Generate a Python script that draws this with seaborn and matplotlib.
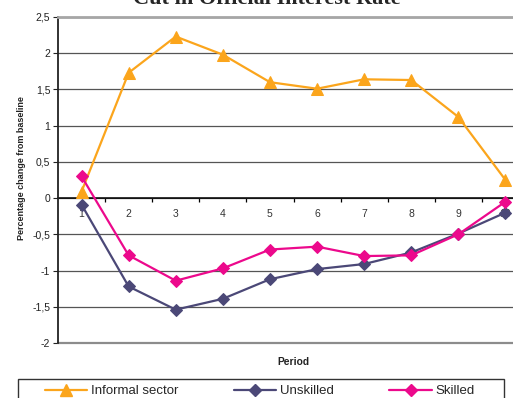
import matplotlib
matplotlib.use("Agg")
import matplotlib.pyplot as plt
from matplotlib.patches import Rectangle
from matplotlib.lines import Line2D
import seaborn as sns
import pandas as pd

# Data: percentage change from baseline per period
periods = [1, 2, 3, 4, 5, 6, 7, 8, 9, 10]
informal_sector = [0.09, 1.73, 2.23, 1.98, 1.60, 1.51, 1.64, 1.63, 1.12, 0.25]
unskilled = [-0.09, -1.22, -1.54, -1.39, -1.12, -0.98, -0.91, -0.75, -0.49, -0.20]
skilled = [0.30, -0.79, -1.14, -0.97, -0.71, -0.67, -0.80, -0.79, -0.50, -0.05]

series_names = ["Informal sector", "Unskilled", "Skilled"]
y_ticks = [-2, -1.5, -1, -0.5, 0, 0.5, 1, 1.5, 2, 2.5]
y_tick_labels = ["-2", "-1,5", "-1", "-0,5", "0", "0,5", "1", "1,5", "2", "2,5"]
x_tick_labels = ["1", "2", "3", "4", "5", "6", "7", "8", "9", "10"]

colors = {"Informal sector": "#FBA51C", "Unskilled": "#4B4877", "Skilled": "#EC098C"}
markers = {"Informal sector": "^", "Unskilled": "D", "Skilled": "D"}
msize = {"Informal sector": 9, "Unskilled": 6.5, "Skilled": 6.5}

df = pd.DataFrame({
    "Period": periods * 3,
    "Value": informal_sector + unskilled + skilled,
    "Series": [series_names[0]] * 10 + [series_names[1]] * 10 + [series_names[2]] * 10,
})

sns.set_theme(style="white")
plt.rcParams["font.family"] = ["Liberation Sans", "DejaVu Sans"]

W, H = 513, 398
fig = plt.figure(figsize=(W / 100, H / 100), dpi=100)
left, right, top, bottom = 58, 529, 17, 343
ax = fig.add_axes([left / W, 1 - bottom / H, (right - left) / W, (bottom - top) / H])

for name in series_names:
    sub = df[df["Series"] == name]
    sns.lineplot(data=sub, x="Period", y="Value", ax=ax, color=colors[name],
                 marker=markers[name], markersize=msize[name],
                 markeredgecolor=colors[name], linewidth=1.6, legend=False,
                 zorder=3)

ax.set_xlim(0.5, 10.5)
ax.set_ylim(-2, 2.5)

# horizontal gridlines
ax.set_yticks(y_ticks)
ax.set_yticklabels(y_tick_labels, fontsize=7.5, color="#222222")
ax.yaxis.grid(True, color="#555555", linewidth=0.9)
ax.set_axisbelow(True)
ax.tick_params(axis="y", which="major", direction="out", length=3.6, width=0.8,
               color="#222222", pad=2, left=True)
ax.axhline(-2, color="#8C8C8C", linewidth=1.6, clip_on=False, zorder=1)

# x axis sits on the zero line
ax.spines["bottom"].set_position(("data", 0))
ax.spines["bottom"].set_color("black")
ax.spines["bottom"].set_linewidth(1.1)
ax.spines["bottom"].set_zorder(2)
ax.set_xticks(periods)
ax.set_xticklabels(x_tick_labels, fontsize=7.5, color="#333333")
ax.set_xticks([p + 0.5 for p in periods[:-1]], minor=True)
ax.tick_params(axis="x", which="major", length=0, pad=8)
ax.tick_params(axis="x", which="minor", direction="out", length=3, width=0.9,
               color="black", bottom=True)

ax.spines["left"].set_color("#222222")
ax.spines["left"].set_linewidth(1.3)
ax.spines["left"].set_zorder(2.5)
ax.spines["top"].set_color("#A6A6A6")
ax.spines["top"].set_linewidth(2)
ax.spines["right"].set_visible(False)
ax.set_xlabel("")
ax.set_ylabel("")

# texts
fig.text(267 / W, 1 - 4 / H, "Cut in Official Interest Rate", ha="center", va="baseline",
         fontsize=16, fontweight="bold", family=["Liberation Serif", "DejaVu Serif"])
fig.text(293 / W, 1 - 362 / H, "Period", ha="center", va="center",
         fontsize=7.4, fontweight="bold", color="#222222")
fig.text(22 / W, 1 - 168 / H, "Percentage change from baseline", ha="center", va="center",
         rotation=90, fontsize=6.5, fontweight="bold", color="#222222")

# legend
handles = [Line2D([], [], color=colors[n], marker=markers[n], markersize=msize[n] * 0.95,
                  linewidth=1.6) for n in series_names]
fig.legend(handles, series_names, loc="center left", bbox_to_anchor=(45 / W, 1 - 391 / H),
           ncol=3, frameon=False, fontsize=9.5, handlelength=3.2, handletextpad=0.3,
           columnspacing=4.2, borderpad=0, borderaxespad=0)
fig.add_artist(Rectangle((18 / W, 1 - 412 / H), 486 / W, 33 / H, transform=fig.transFigure,
                         fill=False, edgecolor="#333333", linewidth=1))

fig.savefig("out.png", dpi=100)
